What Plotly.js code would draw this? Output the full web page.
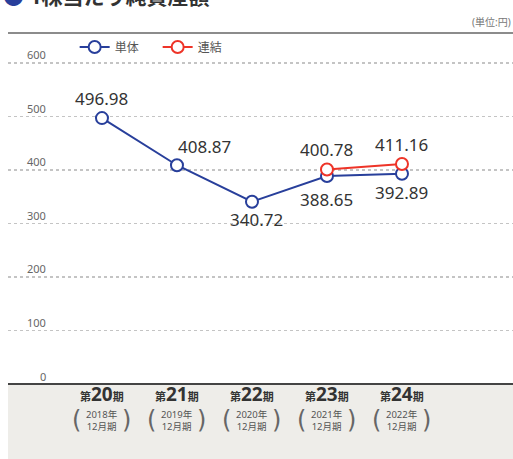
<!DOCTYPE html>
<html><head><meta charset="utf-8">
<script src="https://cdn.plot.ly/plotly-3.0.1.min.js"></script>
<style>html,body{margin:0;padding:0;background:#fff;}#chart{width:513px;height:459px;}</style>
</head><body><div id="chart"></div>
<script>
// ---- data ----
const categories = ['第20期','第21期','第22期','第23期','第24期'];
const periodNums = ['20','21','22','23','24'];
const yearLines = ['2018年','2019年','2020年','2021年','2022年'];
const monthLines = ['12月期','12月期','12月期','12月期','12月期'];
const tanTai = [496.98, 408.87, 340.72, 388.65, 392.89];   // 単体
const renKetsu = [null, null, null, 400.78, 411.16];      // 連結
const yTicks = [0, 100, 200, 300, 400, 500, 600];
const seriesNames = ['単体', '連結'];
const titleText = '1株当たり純資産額';
const unitText = '(単位:円)';

// ---- styles ----
const BLUE = '#283f9b', RED = '#ee3428';
const FONT = 'Noto Sans, Noto Sans CJK JP, sans-serif';
const tanShift = [[0,20],[28,19],[5,-18],[0,-23],[0,-19]];
const renShift = [null,null,null,[0,20],[0,20]];

const traces = [
  {x: categories, y: tanTai, name: seriesNames[0], type:'scatter', mode:'lines+markers',
   line:{color:BLUE, width:2}, marker:{size:12, color:'#fff', line:{color:BLUE, width:2}}, hoverinfo:'skip'},
  {x: categories, y: renKetsu, name: seriesNames[1], type:'scatter', mode:'lines+markers',
   line:{color:RED, width:2}, marker:{size:12, color:'#fff', line:{color:RED, width:2}}, hoverinfo:'skip'}
];

const ann = [];
tanTai.forEach((v,i)=>{ if(v!=null) ann.push({x:categories[i], y:v, xref:'x', yref:'y', text:v.toFixed(2), showarrow:false,
  xshift:tanShift[i][0], yshift:tanShift[i][1], font:{size:17, color:'#333', family:FONT}}); });
renKetsu.forEach((v,i)=>{ if(v!=null) ann.push({x:categories[i], y:v, xref:'x', yref:'y', text:v.toFixed(2), showarrow:false,
  xshift:renShift[i][0], yshift:renShift[i][1], font:{size:17, color:'#333', family:FONT}}); });
yTicks.forEach(t=>{ ann.push({x:0.079, y:t, xref:'paper', yref:'y', text:String(t), showarrow:false, xanchor:'right', yshift:8,
  font:{size:11, color:'#666', family:FONT}}); });
categories.forEach((c,i)=>{
  ann.push({x:c, y:0, xref:'x', yref:'paper', yanchor:'middle', yshift:-10, showarrow:false,
    text:'<b>第<span style="font-size:19px">'+periodNums[i]+'</span>期</b>', font:{size:11, color:'#333', family:FONT}});
  ann.push({x:c, y:0, xref:'x', yref:'paper', yanchor:'middle', yshift:-36, showarrow:false,
    text:yearLines[i]+'<br>'+monthLines[i], font:{size:9.5, color:'#555', family:FONT}});
  ann.push({x:c, y:0, xref:'x', yref:'paper', yanchor:'middle', yshift:-36, xshift:-25, showarrow:false,
    text:'(', font:{size:24, color:'#666', family:'DejaVu Sans'}});
  ann.push({x:c, y:0, xref:'x', yref:'paper', yanchor:'middle', yshift:-36, xshift:25, showarrow:false,
    text:')', font:{size:24, color:'#666', family:'DejaVu Sans'}});
});
ann.push({x:1, y:1, xref:'paper', yref:'paper', xanchor:'right', yanchor:'middle', yshift:11, showarrow:false,
  text:unitText, font:{size:10, color:'#777', family:FONT}});
ann.push({x:0, y:1, xref:'paper', yref:'paper', xanchor:'left', yanchor:'middle', yshift:37, xshift:-7, showarrow:false,
  text:'<span style="color:'+BLUE+'">●</span> <b>'+titleText+'</b>', font:{size:21, color:'#333', family:FONT}});

const layout = {
  width:513, height:459, margin:{l:8, r:0, t:33, b:75},
  paper_bgcolor:'#fff', plot_bgcolor:'#fff',
  font:{family:FONT},
  showlegend:true,
  legend:{orientation:'h', x:0.132, y:0.96, xanchor:'left', yanchor:'middle', entrywidth:38, font:{size:12, color:'#555'}, bgcolor:'rgba(0,0,0,0)', itemclick:false},
  xaxis:{type:'category', range:[-1.253, 5.48], showticklabels:false, showgrid:false, zeroline:false, showline:false, ticks:''},
  yaxis:{range:[0, 656], tickvals:yTicks.slice(1), showticklabels:false, showgrid:true, gridcolor:'#c4c4c4', griddash:'dot', gridwidth:1.5, zeroline:false, ticks:''},
  shapes:[
    {type:'rect', xref:'paper', yref:'paper', x0:0, x1:1, y0:-0.214, y1:0, fillcolor:'#eeede9', line:{width:0}, layer:'below'},
    {type:'line', xref:'paper', yref:'paper', x0:0, x1:1, y0:0, y1:0, line:{color:'#444', width:2}},
    {type:'line', xref:'paper', yref:'paper', x0:0, x1:1, y0:1, y1:1, line:{color:'#666', width:1.5}}
  ],
  annotations: ann
};
Plotly.newPlot('chart', traces, layout, {displayModeBar:false, staticPlot:true});
</script></body></html>
